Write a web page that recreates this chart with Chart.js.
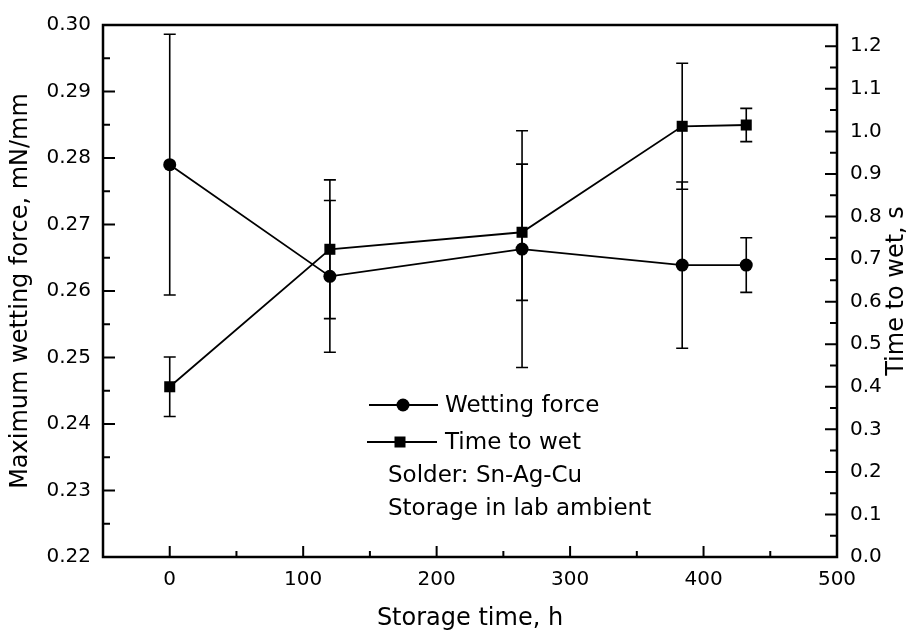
<!DOCTYPE html>
<html>
<head>
<meta charset="utf-8">
<script src="https://cdn.jsdelivr.net/npm/chart.js@4/dist/chart.umd.min.js"></script>
<style>
  html, body { margin: 0; padding: 0; background: #fff; }
  canvas { display: block; }
</style>
</head>
<body>
<canvas id="c" width="922" height="637"></canvas>
<script>
// ---- Data ----
const hours = [0, 120, 264, 384, 432];
const wettingForce = [0.2790, 0.2622, 0.2663, 0.2639, 0.2639];      // mN/mm
const wettingForceErr = [0.0196, 0.0114, 0.0178, 0.0125, 0.0041];
const timeToWet = [0.400, 0.723, 0.763, 1.012, 1.015];              // s
const timeToWetErr = [0.070, 0.163, 0.160, 0.148, 0.039];

const xTicks = [0, 100, 200, 300, 400, 500];
const forceTicks = [0.22, 0.23, 0.24, 0.25, 0.26, 0.27, 0.28, 0.29, 0.30];
const timeTicks = [0.0, 0.1, 0.2, 0.3, 0.4, 0.5, 0.6, 0.7, 0.8, 0.9, 1.0, 1.1, 1.2];

const xTitle = 'Storage time, h';
const yLeftTitle = 'Maximum wetting force, mN/mm';
const yRightTitle = 'Time to wet, s';
const legendLabels = ['Wetting force', 'Time to wet'];
const noteLines = ['Solder: Sn-Ag-Cu', 'Storage in lab ambient'];

const FONT = "'DejaVu Sans', 'Liberation Sans', Arial, sans-serif";

const forceData = hours.map((h, i) => ({ x: h, y: wettingForce[i], e: wettingForceErr[i] }));
const timeData = hours.map((h, i) => ({ x: h, y: timeToWet[i], e: timeToWetErr[i] }));

// Error bars drawn through the scales
const errorBars = {
  id: 'errorBars',
  beforeDatasetsDraw(chart) {
    const ctx = chart.ctx;
    const xs = chart.scales.x;
    ctx.save();
    ctx.strokeStyle = '#000';
    ctx.lineWidth = 1.6;
    chart.data.datasets.forEach(ds => {
      const ys = chart.scales[ds.yAxisID];
      ds.data.forEach(p => {
        const px = xs.getPixelForValue(p.x);
        const top = ys.getPixelForValue(p.y + p.e);
        const bot = ys.getPixelForValue(p.y - p.e);
        ctx.beginPath();
        ctx.moveTo(px, top); ctx.lineTo(px, bot);
        ctx.moveTo(px - 6, top); ctx.lineTo(px + 6, top);
        ctx.moveTo(px - 6, bot); ctx.lineTo(px + 6, bot);
        ctx.stroke();
      });
    });
    ctx.restore();
  }
};

// Frame, inward ticks, titles, legend
const decor = {
  id: 'decor',
  afterDraw(chart) {
    const ctx = chart.ctx;
    const a = chart.chartArea;
    const xs = chart.scales.x, yl = chart.scales.y, yr = chart.scales.y1;
    ctx.save();
    ctx.strokeStyle = '#000';
    ctx.fillStyle = '#000';

    // ticks
    ctx.lineWidth = 2;
    ctx.beginPath();
    const major = 12, minor = 7;
    forceTicks.forEach((v, i) => {
      const py = yl.getPixelForValue(v);
      ctx.moveTo(a.left, py); ctx.lineTo(a.left + major, py);
      if (i < forceTicks.length - 1) {
        const pm = yl.getPixelForValue((v + forceTicks[i + 1]) / 2);
        ctx.moveTo(a.left, pm); ctx.lineTo(a.left + minor, pm);
      }
    });
    timeTicks.forEach((v, i) => {
      const py = yr.getPixelForValue(v);
      ctx.moveTo(a.right, py); ctx.lineTo(a.right - major, py);
      const pm = yr.getPixelForValue(v + 0.05);
      if (pm > a.top) { ctx.moveTo(a.right, pm); ctx.lineTo(a.right - minor, pm); }
    });
    xTicks.forEach((v, i) => {
      const px = xs.getPixelForValue(v);
      ctx.moveTo(px, a.bottom); ctx.lineTo(px, a.bottom - 11);
      const pm = xs.getPixelForValue(v - 50);
      if (pm > a.left) { ctx.moveTo(pm, a.bottom); ctx.lineTo(pm, a.bottom - 6); }
    });
    ctx.stroke();

    // frame
    ctx.lineWidth = 2.5;
    ctx.strokeRect(a.left, a.top, a.right - a.left, a.bottom - a.top);

    // titles
    ctx.font = '24px ' + FONT;
    ctx.textAlign = 'center';
    ctx.textBaseline = 'middle';
    ctx.fillText(xTitle, (a.left + a.right) / 2, 619);
    ctx.save();
    ctx.translate(21, (a.top + a.bottom) / 2);
    ctx.rotate(-Math.PI / 2);
    ctx.fillText(yLeftTitle, 0, 0);
    ctx.restore();
    ctx.save();
    ctx.translate(897, 291);
    ctx.rotate(-Math.PI / 2);
    ctx.fillText(yRightTitle, 0, 0);
    ctx.restore();

    // legend
    ctx.lineWidth = 1.8;
    ctx.beginPath();
    ctx.moveTo(369, 405); ctx.lineTo(438, 405);
    ctx.moveTo(367, 442); ctx.lineTo(437, 442);
    ctx.stroke();
    ctx.beginPath();
    ctx.arc(403, 405, 6.5, 0, Math.PI * 2);
    ctx.fill();
    ctx.fillRect(400 - 5.5, 442 - 5.5, 11, 11);

    ctx.font = '23px ' + FONT;
    ctx.textAlign = 'left';
    ctx.textBaseline = 'middle';
    ctx.fillText(legendLabels[0], 445, 406);
    ctx.fillText(legendLabels[1], 445, 443);
    ctx.fillText(noteLines[0], 388, 476);
    ctx.fillText(noteLines[1], 388, 509);
    ctx.restore();
  }
};

new Chart(document.getElementById('c'), {
  type: 'scatter',
  data: {
    datasets: [
      {
        label: legendLabels[0],
        data: forceData,
        yAxisID: 'y',
        showLine: true,
        borderColor: '#000',
        backgroundColor: '#000',
        borderWidth: 1.8,
        pointStyle: 'circle',
        pointRadius: 6.5,
        pointBorderWidth: 0,
        tension: 0
      },
      {
        label: legendLabels[1],
        data: timeData,
        yAxisID: 'y1',
        showLine: true,
        borderColor: '#000',
        backgroundColor: '#000',
        borderWidth: 1.8,
        pointStyle: 'rect',
        pointRadius: 7.8,
        pointBorderWidth: 0,
        tension: 0
      }
    ]
  },
  options: {
    responsive: false,
    devicePixelRatio: 1,
    animation: false,
    layout: { padding: { top: 21, left: 0, right: 0, bottom: 0 } },
    plugins: { legend: { display: false }, tooltip: { enabled: false } },
    scales: {
      x: {
        type: 'linear',
        min: -50, max: 500,
        afterBuildTicks: s => { s.ticks = xTicks.map(v => ({ value: v })); },
        afterFit: s => { s.height = 80; },
        grid: { display: false, drawTicks: false },
        border: { display: false },
        ticks: { color: '#000', font: { family: FONT, size: 20 }, padding: 11, maxRotation: 0, callback: v => String(v) }
      },
      y: {
        type: 'linear', position: 'left',
        min: 0.22, max: 0.30,
        afterBuildTicks: s => { s.ticks = forceTicks.map(v => ({ value: v })); },
        afterFit: s => { s.width = 103; },
        grid: { display: false, drawTicks: false },
        border: { display: false },
        ticks: { color: '#000', font: { family: FONT, size: 20 }, padding: 12, callback: v => Number(v).toFixed(2) }
      },
      y1: {
        type: 'linear', position: 'right',
        min: 0, max: 1.25,
        afterBuildTicks: s => { s.ticks = timeTicks.map(v => ({ value: v })); },
        afterFit: s => { s.width = 85; },
        grid: { display: false, drawTicks: false },
        border: { display: false },
        ticks: { color: '#000', font: { family: FONT, size: 20 }, padding: 13, callback: v => Number(v).toFixed(1) }
      }
    }
  },
  plugins: [errorBars, decor]
});
</script>
</body>
</html>
